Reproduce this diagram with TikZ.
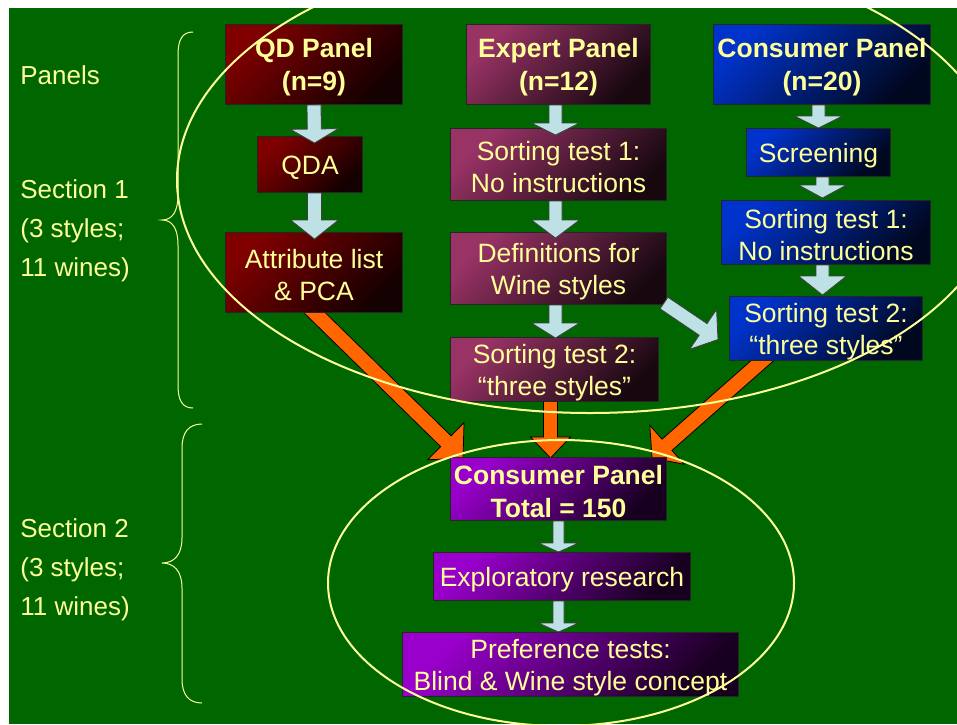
\documentclass[tikz,border=0pt]{standalone}
\usepackage{fontspec}
\setmainfont{Liberation Sans}
\usetikzlibrary{calc}

\definecolor{bggreen}{RGB}{0,102,0}
\definecolor{paleyellow}{RGB}{255,255,153}
\definecolor{lightarrow}{RGB}{190,225,230}
\definecolor{orangearrow}{RGB}{255,102,0}
\definecolor{qdred}{RGB}{128,0,0}
\definecolor{expertpink}{RGB}{153,51,102}
\definecolor{consumerblue}{RGB}{0,51,204}
\definecolor{totalpurple}{RGB}{153,0,204}

\pgfdeclarelayer{back}
\pgfdeclarelayer{under}
\pgfsetlayers{back,under,main}

% block arrow: [style]{from}{tip}{shaft half width}{head half width}{head length}
\newcommand{\blockarrow}[6][]{%
  \coordinate (ba-s) at (#2);
  \coordinate (ba-t) at (#3);
  \coordinate (ba-h) at ($(ba-t)!#6!(ba-s)$);
  \draw[#1] ($(ba-s)!#4!90:(ba-t)$) -- ($(ba-h)!#4!90:(ba-t)$)
    -- ($(ba-h)!#5!90:(ba-t)$) -- (ba-t)
    -- ($(ba-h)!#5!-90:(ba-t)$) -- ($(ba-h)!#4!-90:(ba-t)$)
    -- ($(ba-s)!#4!-90:(ba-t)$) -- cycle;
}
% taller first line, so the box text sits a little lower
\newcommand{\boxstrut}{\rule{0pt}{12.6pt}}

\tikzset{
  panelbox/.style={draw=black!85, line width=0.5pt, anchor=north west, inner sep=0pt,
    align=center, text=paleyellow, font=\fontsize{13.25pt}{16pt}\selectfont},
  titlebox/.style={font=\fontsize{13.25pt}{16.5pt}\selectfont\bfseries},
  qdbox/.style={panelbox, top color=qdred, bottom color=qdred!15!black, shading angle=45},
  expertbox/.style={panelbox, top color=expertpink, bottom color=expertpink!15!black, shading angle=45},
  consumerbox/.style={panelbox, top color=consumerblue, bottom color=consumerblue!15!black, shading angle=45},
  totalbox/.style={panelbox, top color=totalpurple, bottom color=totalpurple!15!black, shading angle=45},
  sidelabel/.style={anchor=west, align=left, inner sep=0pt, text=paleyellow,
    font=\fontsize{13pt}{19.5pt}\selectfont},
  lbarrow/.style={fill=lightarrow, draw=black!75, line width=0.4pt},
  orarrow/.style={fill=orangearrow, draw=black, line width=0.4pt},
  sectionbrace/.style={draw=paleyellow, line width=0.5pt},
  sectionoval/.style={draw=paleyellow, line width=1pt},
}

\begin{document}
\begin{tikzpicture}[x=0.5pt, y=-0.5pt]
  \useasboundingbox (0,0) rectangle (957,724);
  \begin{pgfonlayer}{back}
    \fill[bggreen] (9,8) rectangle (957,724);
  \end{pgfonlayer}

  % side labels
  \node[sidelabel] (panelslbl) at (20,75)  {Panels};
  \node[sidelabel] (sec1lbl)   at (20,231) {Section 1\\(3 styles;\\11 wines)};
  \node[sidelabel] (sec2lbl)   at (20,570) {Section 2\\(3 styles;\\11 wines)};

  % braces
  \draw[sectionbrace] (193,32) .. controls (182,32) and (178,40) .. (178,55) -- (178,195)
    .. controls (178,212) and (172,220) .. (162,220)
    .. controls (172,220) and (178,228) .. (178,245) -- (178,385)
    .. controls (178,400) and (182,408) .. (193,408);
  \draw[sectionbrace] (202,424) .. controls (189,424) and (182,432) .. (182,448) -- (182,538)
    .. controls (182,555) and (174,563) .. (162,563)
    .. controls (174,563) and (182,571) .. (182,588) -- (182,679)
    .. controls (182,695) and (189,703) .. (202,703);

  % QD panel
  \node[qdbox, titlebox, minimum width=88.5pt, minimum height=40pt] (qd)   at (225,24)  {\boxstrut QD Panel\\(n=9)};
  \node[qdbox, minimum width=52.5pt, minimum height=28pt]           (qda)  at (257,136) {\boxstrut QDA};
  \node[qdbox, minimum width=88.5pt, minimum height=40pt]           (attr) at (225,232) {\boxstrut Attribute list\\\& PCA};

  % expert panel
  \node[expertbox, titlebox, minimum width=92pt, minimum height=40pt] (exp)    at (466,24)  {\boxstrut Expert Panel\\(n=12)};
  \node[expertbox, minimum width=108pt, minimum height=36pt]          (esort1) at (450,128) {\boxstrut Sorting test 1:\\No instructions};
  \node[expertbox, minimum width=108pt, minimum height=36pt]          (edef)   at (450,232) {\boxstrut Definitions for\\Wine styles};
  \node[expertbox, minimum width=104pt, minimum height=32pt]          (esort2) at (450,337) {\boxstrut Sorting test 2:\\``three styles''};

  % consumer panel
  \node[consumerbox, titlebox, minimum width=108.5pt, minimum height=40pt] (con)    at (713,24)  {\boxstrut Consumer Panel\\(n=20)};
  \node[consumerbox, minimum width=72pt, minimum height=24pt]              (screen) at (746,128) {\boxstrut Screening};
  \node[consumerbox, minimum width=104.5pt, minimum height=32pt]           (csort1) at (721,200) {\boxstrut Sorting test 1:\\No instructions};
  \node[consumerbox, minimum width=96.5pt, minimum height=32pt]            (csort2) at (729,296) {\boxstrut Sorting test 2:\\``three styles''};

  % section 2
  \node[totalbox, titlebox, minimum width=108pt, minimum height=31.5pt] (total) at (450,457) {\boxstrut Consumer Panel\\Total = 150};
  \node[totalbox, minimum width=128.5pt, minimum height=24pt]           (explo) at (433,552) {\boxstrut Exploratory research};
  \node[totalbox, minimum width=168pt, minimum height=32pt]             (pref)  at (402,632) {\boxstrut Preference tests:\\Blind \& Wine style concept};

  % orange arrows into the consumer panel
  \begin{pgfonlayer}{under}
    \blockarrow[orarrow]{$(attr.south)+(-40,-40)$}{$(total.north west)+(13,1)$}{3.75pt}{13pt}{12pt}
    \blockarrow[orarrow]{$(esort2.south)+(-4,-10)$}{$(total.north)+(-8,1)$}{3.5pt}{10pt}{10.5pt}
    \blockarrow[orarrow]{$(csort2.south)+(-30,-30)$}{$(total.north east)+(-15,1)$}{3.75pt}{13pt}{10pt}
  \end{pgfonlayer}

  % light arrows
  \blockarrow[lbarrow]{qd.south}{$(qda.north)+(4.5,7)$}{3.5pt}{12pt}{7pt}
  \blockarrow[lbarrow]{$(qda.south)+(4.5,0)$}{$(attr.north)+(0.5,7)$}{3.5pt}{12pt}{9.5pt}
  \blockarrow[lbarrow]{$(exp.south)+(-3,0)$}{$(esort1.north)+(-3,7)$}{3.25pt}{12pt}{6pt}
  \blockarrow[lbarrow]{$(esort1.south)+(-3,0)$}{$(edef.north)+(-3,6)$}{3.25pt}{12pt}{9pt}
  \blockarrow[lbarrow]{$(edef.south)+(-3,0)$}{$(esort2.north)+(1,1)$}{3.25pt}{12pt}{7.5pt}
  \blockarrow[lbarrow]{$(con.south)+(-3.5,0)$}{screen.north}{3.25pt}{12pt}{6pt}
  \blockarrow[lbarrow]{$(screen.south)+(4,0)$}{$(csort1.north)+(-3.5,-2)$}{3.25pt}{12pt}{6.5pt}
  \blockarrow[lbarrow]{$(csort1.south)+(-3.5,0)$}{$(csort2.north)+(-3.5,-1)$}{3.25pt}{12pt}{9.5pt}
  \blockarrow[lbarrow]{total.south}{$(explo.north)+(-3.5,0)$}{2.75pt}{10pt}{4.5pt}
  \blockarrow[lbarrow]{$(explo.south)+(-3.5,0)$}{$(pref.north)+(-12,0)$}{2.75pt}{10pt}{4.5pt}
  \blockarrow[lbarrow]{$(edef.south east)+(-3,-2)$}{$(csort2.west)+(-11,11)$}{3.5pt}{12pt}{9pt}

  % ovals round the two sections
  \begin{scope}
    \clip (9,8) rectangle (957,724);
    \draw[sectionoval] (590,180) ellipse [x radius=206.5pt, y radius=116.5pt];
    \draw[sectionoval] (561,583) ellipse [x radius=116.5pt, y radius=71.5pt];
  \end{scope}
\end{tikzpicture}
\end{document}
